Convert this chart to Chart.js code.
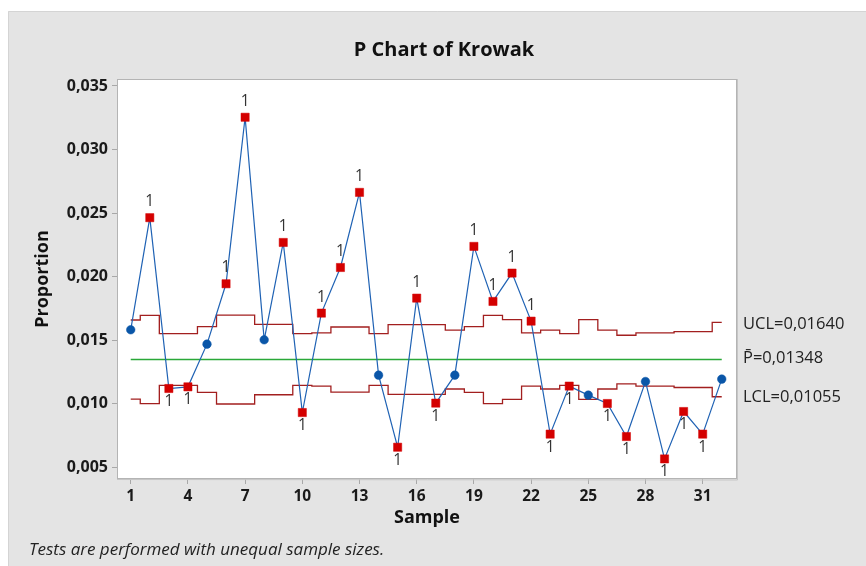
<!DOCTYPE html>
<html>
<head>
<meta charset="utf-8">
<title>P Chart of Krowak</title>
<script src="https://cdn.jsdelivr.net/npm/chart.js@4.4.1/dist/chart.umd.min.js"></script>
<style>
  html, body { margin: 0; padding: 0; background: #fff; }
  #wrap { width: 866px; height: 566px; }
</style>
</head>
<body>
<div id="wrap"><canvas id="pchart" width="866" height="566"></canvas></div>
<script>
// sample numbers and the measured proportion per sample
const samples = [1, 2, 3, 4, 5, 6, 7, 8, 9, 10, 11, 12, 13, 14, 15, 16,
  17, 18, 19, 20, 21, 22, 23, 24, 25, 26, 27, 28, 29, 30, 31, 32];
const proportion = [0.01582, 0.02464, 0.01120, 0.01133, 0.01469, 0.01944, 0.03254, 0.01503,
  0.02269, 0.00931, 0.01713, 0.02072, 0.02663, 0.01225, 0.00658, 0.01831,
  0.01005, 0.01225, 0.02238, 0.01805, 0.02028, 0.01650, 0.00761, 0.01139,
  0.01068, 0.01002, 0.00742, 0.01175, 0.00566, 0.00939, 0.00761, 0.01194];
// control limits (unequal sample sizes -> they step)
const ucl = [0.01659, 0.01695, 0.01552, 0.01552, 0.01607, 0.01698, 0.01698, 0.01625,
  0.01625, 0.01552, 0.01558, 0.01604, 0.01604, 0.01552, 0.01622, 0.01622,
  0.01622, 0.01580, 0.01607, 0.01695, 0.01662, 0.01558, 0.01580, 0.01552,
  0.01662, 0.01580, 0.01539, 0.01558, 0.01558, 0.01568, 0.01568, 0.01640];
const lcl = [0.01037, 0.01001, 0.01144, 0.01144, 0.01089, 0.00998, 0.00998, 0.01071,
  0.01071, 0.01144, 0.01138, 0.01092, 0.01092, 0.01144, 0.01074, 0.01074,
  0.01074, 0.01116, 0.01089, 0.01001, 0.01034, 0.01138, 0.01116, 0.01144,
  0.01034, 0.01116, 0.01157, 0.01138, 0.01138, 0.01128, 0.01128, 0.01055];
const pBar = 0.01348;
const xTicks = [1, 4, 7, 10, 13, 16, 19, 22, 25, 28, 31];
const yTicks = [0.005, 0.010, 0.015, 0.020, 0.025, 0.030, 0.035];

const FONT = "'Open Sans', 'Noto Sans', sans-serif";
const RED = "#d40000";
const BLUE = "#0a56a8";

// test 1 failures: outside the limits
const failed = proportion.map((v, i) => v > ucl[i] || v < lcl[i]);

const pts = (arr) => samples.map((s, i) => ({ x: s, y: arr[i] }));

const panelPlugin = {
  id: "panel",
  beforeDraw(chart) {
    const { ctx, chartArea: a, width, height } = chart;
    ctx.save();
    ctx.fillStyle = "#ffffff";
    ctx.fillRect(0, 0, width, height);
    ctx.fillStyle = "#e4e4e4";
    ctx.fillRect(8, 11, width - 8, height - 11);
    ctx.strokeStyle = "#d4d4d4";
    ctx.lineWidth = 1;
    ctx.beginPath();
    ctx.moveTo(8.5, height);
    ctx.lineTo(8.5, 11.5);
    ctx.lineTo(width, 11.5);
    ctx.stroke();
    ctx.fillStyle = "#ffffff";
    ctx.fillRect(a.left, a.top, a.right - a.left, a.bottom - a.top);
    ctx.restore();
  },
  afterDatasetsDraw(chart) {
    const { ctx, scales } = chart;
    ctx.save();
    ctx.font = "15.5px " + FONT;
    ctx.fillStyle = "#333333";
    ctx.textAlign = "center";
    ctx.textBaseline = "middle";
    proportion.forEach((v, i) => {
      if (!failed[i]) return;
      const px = scales.x.getPixelForValue(samples[i]);
      const py = scales.y.getPixelForValue(v);
      ctx.fillText("1", px, v > ucl[i] ? py - 16 : py + 13);
    });
    ctx.restore();
  },
  afterDraw(chart) {
    const { ctx, chartArea: a, scales } = chart;
    ctx.save();
    // plot frame
    ctx.strokeStyle = "#b4b4b4";
    ctx.lineWidth = 1;
    ctx.strokeRect(a.left + 0.5, a.top + 0.5, a.right - a.left - 1, a.bottom - a.top - 1);
    ctx.strokeStyle = "#c6c6c6";
    ctx.beginPath();
    ctx.moveTo(a.right + 0.5, a.top);
    ctx.lineTo(a.right + 0.5, a.bottom + 1);
    ctx.lineTo(a.left, a.bottom + 0.5);
    ctx.stroke();

    ctx.fillStyle = "#111111";
    ctx.textAlign = "center";
    ctx.textBaseline = "middle";
    ctx.font = "bold 20px " + FONT;
    ctx.fillText("P Chart of Krowak", 444, 50);

    ctx.font = "bold 18px " + FONT;
    ctx.fillText("Sample", (a.left + a.right) / 2, 518);
    ctx.save();
    ctx.translate(43, (a.top + a.bottom) / 2);
    ctx.rotate(-Math.PI / 2);
    ctx.fillText("Proportion", 0, 0);
    ctx.restore();

    // limit labels at the right
    ctx.font = "16.5px " + FONT;
    ctx.fillStyle = "#222222";
    ctx.textAlign = "left";
    const last = samples.length - 1;
    ctx.fillText("UCL=0,01640", 743, scales.y.getPixelForValue(ucl[last]) + 2);
    ctx.fillText("P\u0304=0,01348", 743, scales.y.getPixelForValue(pBar) - 1);
    ctx.fillText("LCL=0,01055", 743, scales.y.getPixelForValue(lcl[last]) + 1);

    ctx.font = "italic 17px " + FONT;
    ctx.fillStyle = "#222222";
    ctx.fillText("Tests are performed with unequal sample sizes.", 29, 550);
    ctx.restore();
  }
};

new Chart(document.getElementById("pchart"), {
  type: "line",
  data: {
    datasets: [
      {
        data: pts(proportion),
        borderColor: "#1f62b4",
        borderWidth: 1.2,
        pointStyle: failed.map((f) => (f ? "rect" : "circle")),
        pointRadius: failed.map((f) => (f ? 5.8 : 4.3)),
        pointBackgroundColor: failed.map((f) => (f ? RED : BLUE)),
        pointBorderColor: failed.map((f) => (f ? RED : BLUE)),
        pointBorderWidth: 0.5,
        order: 0,
      },
      {
        data: pts(ucl),
        stepped: "middle",
        borderColor: "#a21f1f",
        borderWidth: 1.3,
        pointRadius: 0,
        order: 1,
      },
      {
        data: pts(lcl),
        stepped: "middle",
        borderColor: "#a21f1f",
        borderWidth: 1.3,
        pointRadius: 0,
        order: 1,
      },
      {
        data: [{ x: samples[0], y: pBar }, { x: samples[samples.length - 1], y: pBar }],
        borderColor: "#2aa838",
        borderWidth: 1.5,
        pointRadius: 0,
        order: 2,
      },
    ],
  },
  options: {
    responsive: false,
    animation: false,
    layout: { padding: { top: 79, right: 129, bottom: 0, left: 0 } },
    elements: { line: { tension: 0 } },
    plugins: {
      legend: { display: false },
      tooltip: { enabled: false },
      title: { display: false },
    },
    scales: {
      x: {
        type: "linear",
        min: 0.28,
        max: 32.8,
        afterBuildTicks: (s) => { s.ticks = xTicks.map((v) => ({ value: v })); },
        afterFit: (s) => { s.height = 87; },
        border: { display: false },
        grid: { drawOnChartArea: false, drawTicks: true, tickLength: 5, color: "#a8a8a8" },
        ticks: {
          padding: 3,
          autoSkip: false,
          maxRotation: 0,
          color: "#1a1a1a",
          font: { family: FONT, size: 15.5, weight: "bold" },
          callback: (v) => String(v),
        },
      },
      y: {
        min: 0.00408,
        max: 0.03555,
        afterBuildTicks: (s) => { s.ticks = yTicks.map((v) => ({ value: v })); },
        afterFit: (s) => { s.width = 117; },
        border: { display: false },
        grid: { drawOnChartArea: false, drawTicks: true, tickLength: 5, color: "#a8a8a8" },
        ticks: {
          padding: 4,
          autoSkip: false,
          color: "#1a1a1a",
          font: { family: FONT, size: 16, weight: "bold" },
          callback: (v) => v.toFixed(3).replace(".", ","),
        },
      },
    },
  },
  plugins: [panelPlugin],
});
</script>
</body>
</html>
